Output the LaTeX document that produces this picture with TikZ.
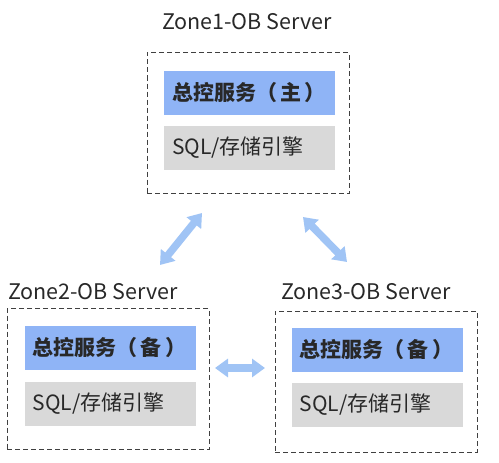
\documentclass[tikz,border=0pt]{standalone}
\usepackage{fontspec}
\setmainfont{Noto Sans CJK SC}
\usetikzlibrary{arrows.meta, positioning}

\definecolor{ctrlblue}{RGB}{143,180,246}
\definecolor{enggray}{RGB}{217,217,217}
\definecolor{linkblue}{RGB}{160,196,245}
\definecolor{txtgray}{RGB}{40,40,40}

\tikzset{
    zone/.style={draw=black!75, dash pattern=on 5pt off 3pt, line width=1pt, minimum width=202pt, minimum height=141pt, inner sep=0pt},
    ctrl/.style={fill=ctrlblue, minimum width=171pt, minimum height=44pt, text width=155pt, inner xsep=8pt, align=left, font=\fontsize{21pt}{23pt}\selectfont\bfseries, text=txtgray},
    engine/.style={fill=enggray, minimum width=171pt, minimum height=44pt, text width=155pt, inner xsep=8pt, align=left, font=\fontsize{21pt}{23pt}\selectfont, text=txtgray},
    title/.style={font=\fontsize{21.5pt}{23pt}\selectfont, text=txtgray, inner sep=0pt},
    link/.style={linkblue, line width=7.5pt, {Triangle[width=18pt,length=13pt]}-{Triangle[width=18pt,length=13pt]}}
}

\begin{document}
\begin{tikzpicture}[x=1pt, y=-1pt]
    \useasboundingbox (0,0) rectangle (499,463);

    % zone 1
    \node[title] (t1) at (247,22) {Zone1-OB Server};
    \node[zone] (z1) at (248,123) {};
    \node[ctrl] (c1) at (249.5,92.5) {总控服务（\,主\,）};
    \node[engine] (e1) at (249.5,148) {SQL/存储引擎};

    % zone 2
    \node[title] (t2) at (93,292) {Zone2-OB Server};
    \node[zone] (z2) at (108,379) {};
    \node[ctrl] (c2) at (110,348) {总控服务（\,备\,）};
    \node[engine] (e2) at (110,403.5) {SQL/存储引擎};

    % zone 3
    \node[title] (t3) at (366,292) {Zone3-OB Server};
    \node[zone] (z3) at (376,381.5) {};
    \node[ctrl] (c3) at (377,350) {总控服务（\,备\,）};
    \node[engine] (e3) at (377,405) {SQL/存储引擎};

    % links
    \coordinate (l1a) at (160,265);
    \coordinate (l1b) at (202,213);
    \coordinate (l2a) at (303,217);
    \coordinate (l2b) at (347,262);
    \coordinate (l3a) at (215,368);
    \coordinate (l3b) at (265,368);
    \draw[link] (l1a) -- (l1b);
    \draw[link] (l2a) -- (l2b);
    \draw[link] (l3a) -- (l3b);
\end{tikzpicture}
\end{document}
